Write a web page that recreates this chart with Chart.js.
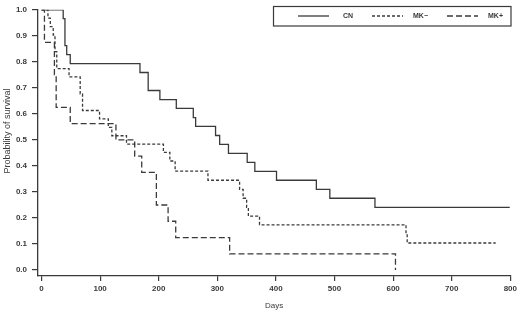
<!DOCTYPE html>
<html>
<head>
<meta charset="utf-8">
<script src="https://cdn.jsdelivr.net/npm/chart.js@4"></script>
<style>
  html, body { margin: 0; padding: 0; background: #fff; }
  #wrap { width: 520px; height: 312px; }
</style>
</head>
<body>
<div id="wrap"><canvas id="chart"></canvas></div>
<script>
// Kaplan-Meier steps: day of event, survival after it
const cnDays = [0, 37, 40, 43, 49, 168, 182, 202, 230, 259, 263, 297, 304, 319, 351, 364, 401, 469, 492, 569, 799]
const cnSurv = [1.0, 0.966, 0.862, 0.828, 0.793, 0.759, 0.690, 0.655, 0.621, 0.586, 0.552, 0.517, 0.483, 0.448, 0.414, 0.379, 0.345, 0.310, 0.276, 0.241, 0.241]

const mkMinusDays = [0, 11, 15, 20, 23, 26, 47, 66, 70, 99, 114, 120, 145, 208, 219, 228, 284, 338, 344, 350, 353, 372, 622, 624, 775]
const mkMinusSurv = [1.0, 0.968, 0.935, 0.903, 0.839, 0.774, 0.742, 0.677, 0.613, 0.581, 0.548, 0.516, 0.484, 0.452, 0.419, 0.380, 0.345, 0.310, 0.276, 0.241, 0.207, 0.174, 0.139, 0.104, 0.104]

const mkPlusDays = [0, 5, 22, 25, 49, 127, 159, 171, 196, 216, 229, 321, 604]
const mkPlusSurv = [1.0, 0.875, 0.75, 0.625, 0.5625, 0.5, 0.4375, 0.375, 0.25, 0.1875, 0.125, 0.0625, 0]

const seriesNames = ['CN', 'MK\u2212', 'MK+']
const xTicks = [0, 100, 200, 300, 400, 500, 600, 700, 800]
const yTicks = [0, 0.1, 0.2, 0.3, 0.4, 0.5, 0.6, 0.7, 0.8, 0.9, 1.0]

const ink = '#3a3a3a'
const font = 'Liberation Sans, Arial, sans-serif'

function toPoints(days, surv) {
    return days.map((d, i) => ({ x: d, y: surv[i] }))
}

function makeSeries(label, days, surv, dash) {
    return {
        label: label,
        data: toPoints(days, surv),
        borderColor: ink,
        borderWidth: 1.3,
        borderDash: dash,
        pointRadius: 0,
        stepped: 'before',
        fill: false,
    }
}

// boxed legend and rotated y title, SAS style
const decorations = {
    id: 'decorations',
    afterDraw(chart) {
        const ctx = chart.ctx
        ctx.save()
        ctx.strokeStyle = ink
        ctx.lineWidth = 1.2
        ctx.strokeRect(273.5, 6.5, 237.5, 19.5)

        const slots = [
            { x1: 298, x2: 329, tx: 343 },
            { x1: 372, x2: 403, tx: 413 },
            { x1: 447, x2: 478, tx: 488 },
        ]
        chart.data.datasets.forEach((ds, i) => {
            const s = slots[i]
            ctx.setLineDash(ds.borderDash || [])
            ctx.lineWidth = ds.borderWidth
            ctx.beginPath()
            ctx.moveTo(s.x1, 16)
            ctx.lineTo(s.x2, 16)
            ctx.stroke()
            ctx.setLineDash([])
            ctx.fillStyle = ink
            ctx.font = 'bold 7px ' + font
            ctx.textBaseline = 'middle'
            ctx.textAlign = 'left'
            ctx.fillText(ds.label, s.tx, 16.5)
        })

        ctx.translate(8, 131)
        ctx.rotate(-Math.PI / 2)
        ctx.font = '9px ' + font
        ctx.textAlign = 'center'
        ctx.textBaseline = 'middle'
        ctx.fillStyle = ink
        ctx.fillText('Probability of survival', 0, 0)
        ctx.restore()
    }
}

new Chart(document.getElementById('chart'), {
    type: 'line',
    data: {
        datasets: [
            makeSeries(seriesNames[0], cnDays, cnSurv, []),
            makeSeries(seriesNames[1], mkMinusDays, mkMinusSurv, [3, 2]),
            makeSeries(seriesNames[2], mkPlusDays, mkPlusSurv, [6, 3]),
        ]
    },
    options: {
        responsive: true,
        maintainAspectRatio: false,
        animation: false,
        layout: { padding: { top: 7, right: 9, left: 0, bottom: 0 } },
        plugins: {
            legend: { display: false },
            tooltip: { enabled: false },
        },
        scales: {
            x: {
                type: 'linear',
                min: -6,
                max: 800,
                afterBuildTicks: scale => { scale.ticks = xTicks.map(v => ({ value: v })) },
                afterFit: scale => { scale.height = 36 },
                grid: { drawOnChartArea: false, drawTicks: true, tickLength: 5, color: ink, lineWidth: 1.2 },
                border: { display: true, color: ink, width: 1.3 },
                ticks: { color: ink, padding: 3, maxRotation: 0, font: { family: font, size: 8, weight: 'bold' } },
                title: { display: true, text: 'Days', color: ink, padding: { top: 0, bottom: 1 }, font: { family: font, size: 8 } },
            },
            y: {
                min: -0.0228,
                max: 1.0,
                afterBuildTicks: scale => { scale.ticks = yTicks.map(v => ({ value: v })) },
                afterFit: scale => { scale.width = 38 },
                grid: { drawOnChartArea: false, drawTicks: true, tickLength: 6, color: ink, lineWidth: 1.2 },
                border: { display: true, color: ink, width: 1.3 },
                ticks: { color: ink, padding: 5, callback: v => v.toFixed(1), font: { family: font, size: 8, weight: 'bold' } },
            },
        },
    },
    plugins: [decorations],
})
</script>
</body>
</html>
